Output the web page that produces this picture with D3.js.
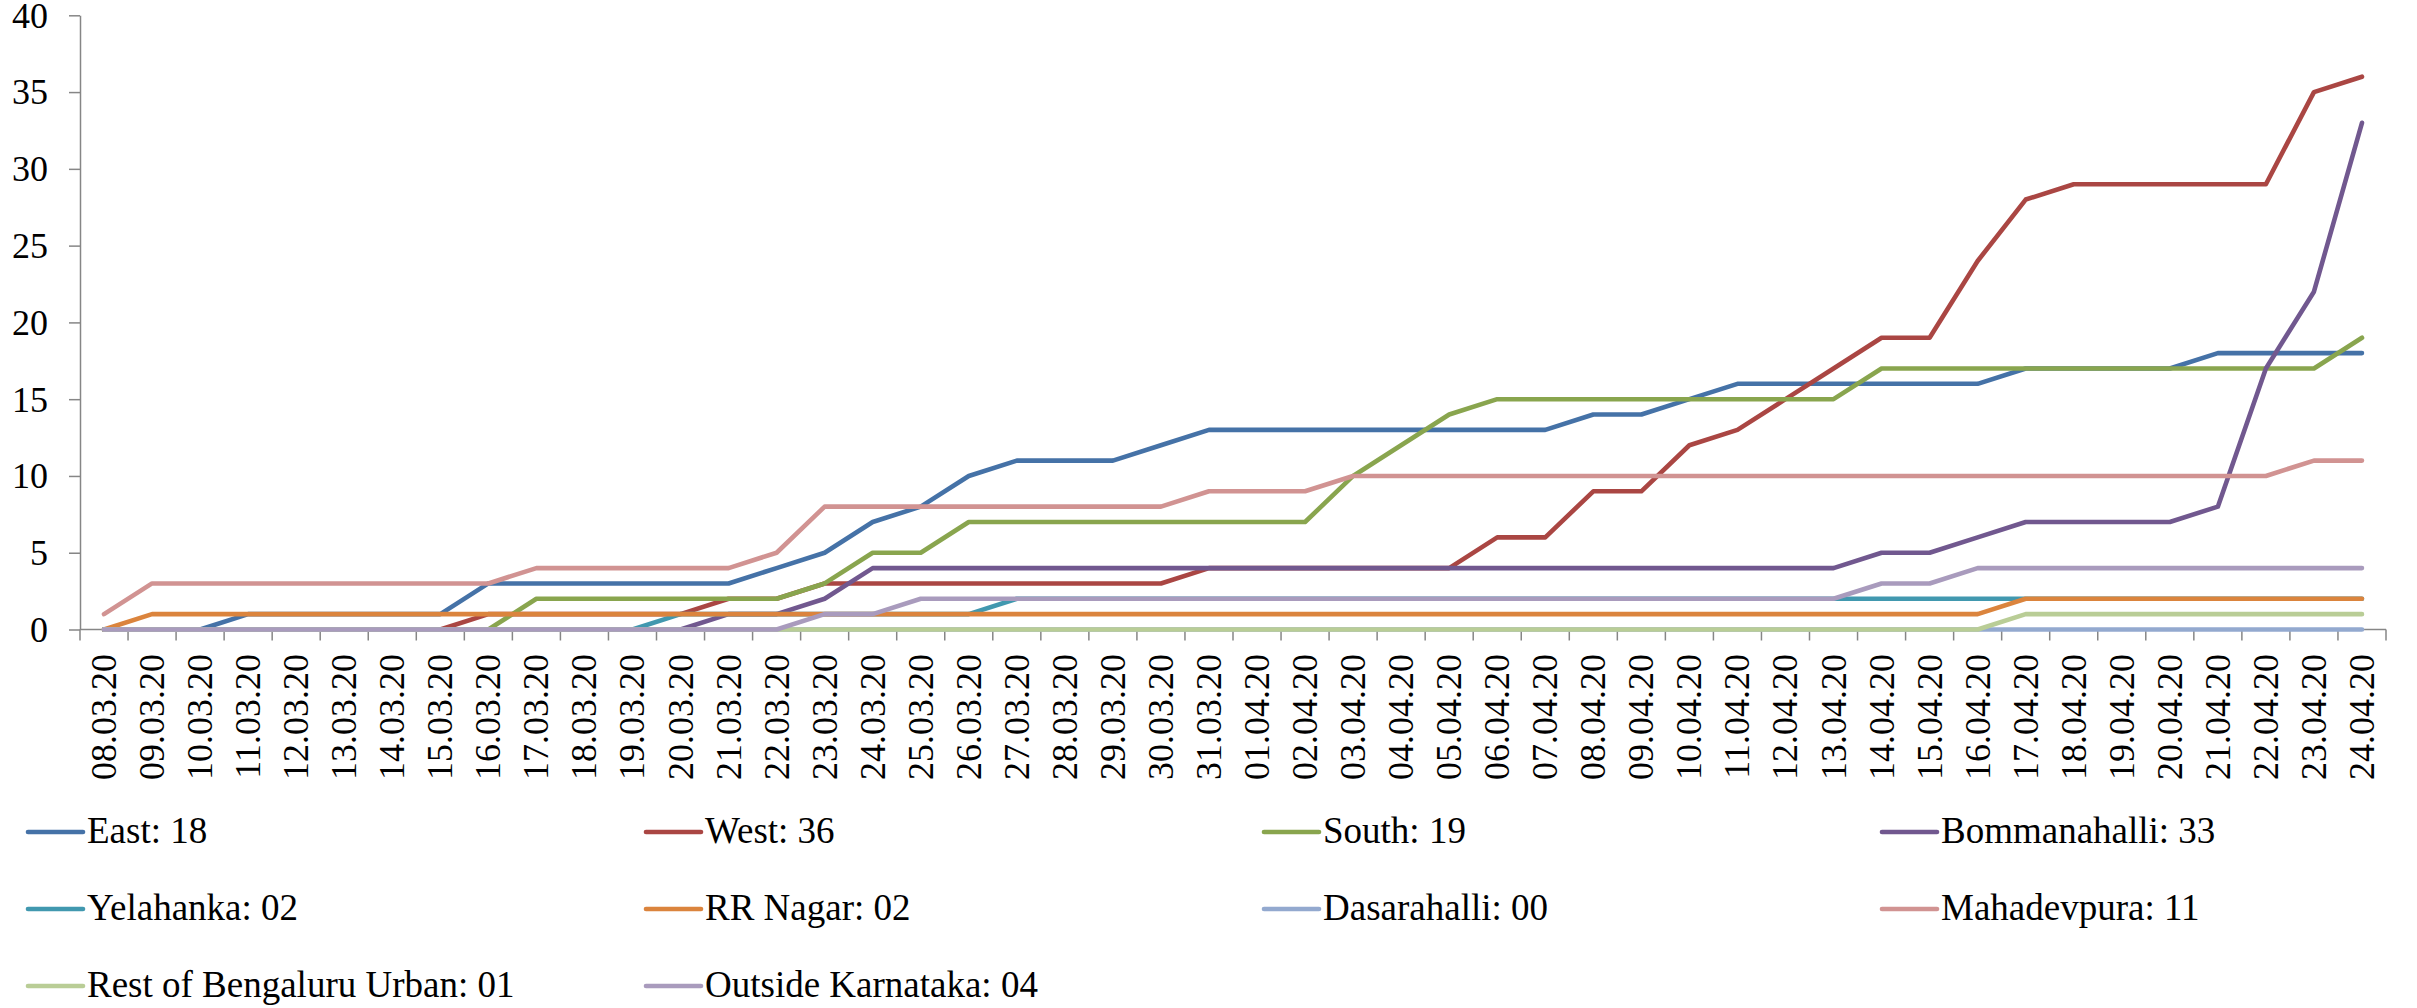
<!DOCTYPE html>
<html>
<head>
<meta charset="utf-8">
<script src="https://cdn.jsdelivr.net/npm/d3@7"></script>
<style>
  html, body { margin: 0; padding: 0; background: #ffffff; }
  svg { display: block; }
  svg text { font-family: "Liberation Serif", "Times New Roman", Times, serif; fill: #000; }
</style>
</head>
<body>
<svg id="chart" width="2417" height="1008"></svg>
<script>
// ---------- DATA ----------
const dates = [
  "08.03.20","09.03.20","10.03.20","11.03.20","12.03.20","13.03.20","14.03.20","15.03.20",
  "16.03.20","17.03.20","18.03.20","19.03.20","20.03.20","21.03.20","22.03.20","23.03.20",
  "24.03.20","25.03.20","26.03.20","27.03.20","28.03.20","29.03.20","30.03.20","31.03.20",
  "01.04.20","02.04.20","03.04.20","04.04.20","05.04.20","06.04.20","07.04.20","08.04.20",
  "09.04.20","10.04.20","11.04.20","12.04.20","13.04.20","14.04.20","15.04.20","16.04.20",
  "17.04.20","18.04.20","19.04.20","20.04.20","21.04.20","22.04.20","23.04.20","24.04.20"
];

const seriesNames = [
  "East: 18","West: 36","South: 19","Bommanahalli: 33",
  "Yelahanka: 02","RR Nagar: 02","Dasarahalli: 00","Mahadevpura: 11",
  "Rest of Bengaluru Urban: 01","Outside Karnataka: 04"
];

const east         = [0,0,0,1,1,1,1,1,3,3,3,3,3,3,4,5,7,8,10,11,11,11,12,13,13,13,13,13,13,13,13,14,14,15,16,16,16,16,16,16,17,17,17,17,18,18,18,18];
const west         = [0,0,0,0,0,0,0,0,1,1,1,1,1,2,2,3,3,3,3,3,3,3,3,4,4,4,4,4,4,6,6,9,9,12,13,15,17,19,19,24,28,29,29,29,29,29,35,36];
const south        = [0,0,0,0,0,0,0,0,0,2,2,2,2,2,2,3,5,5,7,7,7,7,7,7,7,7,10,12,14,15,15,15,15,15,15,15,15,17,17,17,17,17,17,17,17,17,17,19];
const bommanahalli = [0,0,0,0,0,0,0,0,0,0,0,0,0,1,1,2,4,4,4,4,4,4,4,4,4,4,4,4,4,4,4,4,4,4,4,4,4,5,5,6,7,7,7,7,8,17,22,33];
const yelahanka    = [0,0,0,0,0,0,0,0,0,0,0,0,1,1,1,1,1,1,1,2,2,2,2,2,2,2,2,2,2,2,2,2,2,2,2,2,2,2,2,2,2,2,2,2,2,2,2,2];
const rrNagar      = [0,1,1,1,1,1,1,1,1,1,1,1,1,1,1,1,1,1,1,1,1,1,1,1,1,1,1,1,1,1,1,1,1,1,1,1,1,1,1,1,2,2,2,2,2,2,2,2];
const dasarahalli  = [0,0,0,0,0,0,0,0,0,0,0,0,0,0,0,0,0,0,0,0,0,0,0,0,0,0,0,0,0,0,0,0,0,0,0,0,0,0,0,0,0,0,0,0,0,0,0,0];
const mahadevpura  = [1,3,3,3,3,3,3,3,3,4,4,4,4,4,5,8,8,8,8,8,8,8,8,9,9,9,10,10,10,10,10,10,10,10,10,10,10,10,10,10,10,10,10,10,10,10,11,11];
const restUrban    = [0,0,0,0,0,0,0,0,0,0,0,0,0,0,0,0,0,0,0,0,0,0,0,0,0,0,0,0,0,0,0,0,0,0,0,0,0,0,0,0,1,1,1,1,1,1,1,1];
const outsideKA    = [0,0,0,0,0,0,0,0,0,0,0,0,0,0,0,1,1,2,2,2,2,2,2,2,2,2,2,2,2,2,2,2,2,2,2,2,2,3,3,4,4,4,4,4,4,4,4,4];

const yTicks = [0,5,10,15,20,25,30,35,40];

const colors = ["#4572A7","#AA4643","#89A54E","#71588F","#4198AF","#DB843D","#93A9CF","#D19392","#B9CD96","#A99BBD"];

// ---------- LAYOUT ----------
const values = [east, west, south, bommanahalli, yelahanka, rrNagar, dasarahalli, mahadevpura, restUrban, outsideKA];
const series = seriesNames.map((name, i) => ({ name, values: values[i], color: colors[i] }));

const AXIS_COLOR = "#868686";

const svg = d3.select("#chart");

const x = d3.scaleBand().domain(dates).range([80, 2386]).padding(0);
const y = d3.scaleLinear().domain([0, 40]).range([629.5, 15.3]);
const bw = x.bandwidth();

// y axis
const yAxis = svg.append("g")
  .attr("transform", "translate(80,0)")
  .call(d3.axisLeft(y).tickValues(yTicks).tickSize(11).tickPadding(21).tickSizeOuter(0));
yAxis.attr("font-family", null).attr("font-size", null);
yAxis.select(".domain").attr("stroke", AXIS_COLOR).attr("stroke-width", 1.5);
yAxis.selectAll(".tick line").attr("stroke", AXIS_COLOR).attr("stroke-width", 1.5);
yAxis.selectAll(".tick text")
  .style("font-size", "36px").attr("dy", "0.33em");

// x axis line
svg.append("line")
  .attr("x1", x.range()[0]).attr("x2", x.range()[1])
  .attr("y1", y(0)).attr("y2", y(0))
  .attr("stroke", AXIS_COLOR).attr("stroke-width", 1.5);

// x tick marks at category boundaries
const boundaries = dates.map(d => x(d)).concat([x.range()[1]]);
svg.append("g").selectAll("line").data(boundaries).join("line")
  .attr("x1", d => d).attr("x2", d => d)
  .attr("y1", y(0)).attr("y2", y(0) + 11)
  .attr("stroke", AXIS_COLOR).attr("stroke-width", 1.5);

// x labels (rotated)
svg.append("g").selectAll("text").data(dates).join("text")
  .attr("transform", d => `translate(${x(d) + bw / 2 + 12},654) rotate(-90)`)
  .attr("text-anchor", "end")
  .style("font-size", "36px")
  .text(d => d);

// lines
const line = d3.line()
  .x((v, i) => x(dates[i]) + bw / 2)
  .y(v => y(v));

svg.append("g").selectAll("path").data(series).join("path")
  .attr("d", s => line(s.values))
  .attr("fill", "none")
  .attr("stroke", s => s.color)
  .attr("stroke-width", 4.6)
  .attr("stroke-linejoin", "round")
  .attr("stroke-linecap", "round");

// legend
const legCol = [28, 646, 1264, 1882];
const legRow = [832, 909, 986];
const leg = svg.append("g").selectAll("g").data(series).join("g")
  .attr("transform", (s, i) => `translate(${legCol[i % 4]},${legRow[Math.floor(i / 4)]})`);
leg.append("line")
  .attr("x1", 0).attr("x2", 55).attr("y1", 0).attr("y2", 0)
  .attr("stroke", s => s.color).attr("stroke-width", 4.6).attr("stroke-linecap", "round");
leg.append("text")
  .attr("x", 59).attr("y", 11)
  .style("font-size", "37px")
  .text(s => s.name);
</script>
</body>
</html>
